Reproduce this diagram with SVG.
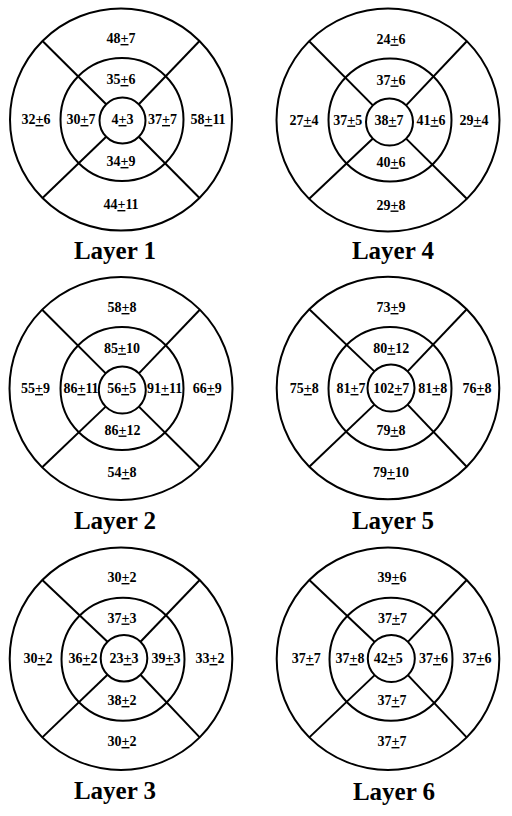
<svg xmlns="http://www.w3.org/2000/svg" width="512" height="816" viewBox="0 0 512 816">
<style>
circle{fill:none;stroke:#000;stroke-width:2}
line{stroke:#000;stroke-width:2}
.v{font-family:"Liberation Serif","Times New Roman",serif;font-weight:bold;font-size:14px;text-anchor:middle;fill:#000}
.t{font-family:"Liberation Serif","Times New Roman",serif;font-weight:bold;font-size:25px;text-anchor:middle;fill:#000}
.u{text-decoration:underline}
</style>
<rect width="512" height="816" fill="#fff"/>

<g id="layer1">
<circle cx="121" cy="119.5" r="111"/>
<circle cx="122" cy="119.5" r="61.5"/>
<circle cx="122.5" cy="120.5" r="23"/>
<g class="dividers">
<line x1="42.5" y1="41" x2="106.2" y2="104.2"/>
<line x1="199.5" y1="41" x2="138.8" y2="104.2"/>
<line x1="42.5" y1="198" x2="106.2" y2="136.8"/>
<line x1="199.5" y1="198" x2="138.8" y2="136.8"/>
</g>
<text class="v" x="121" y="43">48<tspan class="u">+</tspan>7</text>
<text class="v" x="121" y="84">35<tspan class="u">+</tspan>6</text>
<text class="v" x="36" y="124">32<tspan class="u">+</tspan>6</text>
<text class="v" x="81" y="124">30<tspan class="u">+</tspan>7</text>
<text class="v" x="122.5" y="124">4<tspan class="u">+</tspan>3</text>
<text class="v" x="162.5" y="124">37<tspan class="u">+</tspan>7</text>
<text class="v" x="208" y="124">58<tspan class="u">+</tspan>11</text>
<text class="v" x="121" y="166">34<tspan class="u">+</tspan>9</text>
<text class="v" x="121" y="209">44<tspan class="u">+</tspan>11</text>
<text class="t" x="115" y="259">Layer 1</text>
</g>

<g id="layer4">
<circle cx="388" cy="120" r="111.5"/>
<circle cx="390" cy="120" r="61.5"/>
<circle cx="389.5" cy="122" r="23.5"/>
<g class="dividers">
<line x1="309.2" y1="41.2" x2="372.9" y2="105.4"/>
<line x1="466.8" y1="41.2" x2="406.1" y2="105.4"/>
<line x1="309.2" y1="198.8" x2="372.9" y2="138.6"/>
<line x1="466.8" y1="198.8" x2="406.1" y2="138.6"/>
</g>
<text class="v" x="391" y="43.5">24<tspan class="u">+</tspan>6</text>
<text class="v" x="391" y="84.5">37<tspan class="u">+</tspan>6</text>
<text class="v" x="304" y="124.5">27<tspan class="u">+</tspan>4</text>
<text class="v" x="347.7" y="124.5">37<tspan class="u">+</tspan>5</text>
<text class="v" x="389" y="124.5">38<tspan class="u">+</tspan>7</text>
<text class="v" x="431" y="124.5">41<tspan class="u">+</tspan>6</text>
<text class="v" x="474" y="124.5">29<tspan class="u">+</tspan>4</text>
<text class="v" x="391" y="166.5">40<tspan class="u">+</tspan>6</text>
<text class="v" x="391" y="209.5">29<tspan class="u">+</tspan>8</text>
<text class="t" x="393" y="259">Layer 4</text>
</g>

<g id="layer2">
<circle cx="121" cy="388.5" r="111.5"/>
<circle cx="122" cy="388.5" r="61.5"/>
<circle cx="122.3" cy="390" r="23.5"/>
<g class="dividers">
<line x1="42.2" y1="309.7" x2="105.7" y2="373.4"/>
<line x1="199.8" y1="309.7" x2="138.9" y2="373.4"/>
<line x1="42.2" y1="467.3" x2="105.7" y2="406.6"/>
<line x1="199.8" y1="467.3" x2="138.9" y2="406.6"/>
</g>
<text class="v" x="122" y="312">58<tspan class="u">+</tspan>8</text>
<text class="v" x="122" y="352.5">85<tspan class="u">+</tspan>10</text>
<text class="v" x="35.5" y="393">55<tspan class="u">+</tspan>9</text>
<text class="v" x="81" y="393">86<tspan class="u">+</tspan>11</text>
<text class="v" x="121.7" y="393">56<tspan class="u">+</tspan>5</text>
<text class="v" x="164.7" y="393">91<tspan class="u">+</tspan>11</text>
<text class="v" x="207.3" y="393">66<tspan class="u">+</tspan>9</text>
<text class="v" x="122.5" y="434.5">86<tspan class="u">+</tspan>12</text>
<text class="v" x="122" y="477">54<tspan class="u">+</tspan>8</text>
<text class="t" x="115" y="528.5">Layer 2</text>
</g>

<g id="layer5">
<circle cx="388" cy="388" r="111.3"/>
<circle cx="390" cy="388.5" r="61.5"/>
<circle cx="391" cy="388" r="23.5"/>
<g class="dividers">
<line x1="309.3" y1="309.3" x2="374.4" y2="371.4"/>
<line x1="466.7" y1="309.3" x2="407.6" y2="371.4"/>
<line x1="309.3" y1="466.7" x2="374.4" y2="404.6"/>
<line x1="466.7" y1="466.7" x2="407.6" y2="404.6"/>
</g>
<text class="v" x="391" y="312">73<tspan class="u">+</tspan>9</text>
<text class="v" x="391.3" y="352.5">80<tspan class="u">+</tspan>12</text>
<text class="v" x="304.3" y="393">75<tspan class="u">+</tspan>8</text>
<text class="v" x="351" y="393">81<tspan class="u">+</tspan>7</text>
<text class="v" x="391.3" y="393">102<tspan class="u">+</tspan>7</text>
<text class="v" x="432.7" y="393">81<tspan class="u">+</tspan>8</text>
<text class="v" x="477" y="393">76<tspan class="u">+</tspan>8</text>
<text class="v" x="391" y="434.5">79<tspan class="u">+</tspan>8</text>
<text class="v" x="391" y="477">79<tspan class="u">+</tspan>10</text>
<text class="t" x="393" y="528.5">Layer 5</text>
</g>

<g id="layer3">
<circle cx="121" cy="658.7" r="111.3"/>
<circle cx="123" cy="659.3" r="61.5"/>
<circle cx="124" cy="658.3" r="23.3"/>
<g class="dividers">
<line x1="42.3" y1="580" x2="107.5" y2="641.8"/>
<line x1="199.7" y1="580" x2="140.5" y2="641.8"/>
<line x1="42.3" y1="737.4" x2="107.5" y2="674.8"/>
<line x1="199.7" y1="737.4" x2="140.5" y2="674.8"/>
</g>
<text class="v" x="122" y="582">30<tspan class="u">+</tspan>2</text>
<text class="v" x="122" y="622.5">37<tspan class="u">+</tspan>3</text>
<text class="v" x="38" y="663">30<tspan class="u">+</tspan>2</text>
<text class="v" x="83" y="663">36<tspan class="u">+</tspan>2</text>
<text class="v" x="124" y="663">23<tspan class="u">+</tspan>3</text>
<text class="v" x="166" y="663">39<tspan class="u">+</tspan>3</text>
<text class="v" x="210" y="663">33<tspan class="u">+</tspan>2</text>
<text class="v" x="122" y="705">38<tspan class="u">+</tspan>2</text>
<text class="v" x="122" y="746">30<tspan class="u">+</tspan>2</text>
<text class="t" x="115" y="799">Layer 3</text>
</g>

<g id="layer6">
<circle cx="388" cy="658.7" r="111.3"/>
<circle cx="391" cy="659.3" r="61.5"/>
<circle cx="391.3" cy="658.5" r="23.5"/>
<g class="dividers">
<line x1="309.3" y1="580" x2="374.7" y2="641.9"/>
<line x1="466.7" y1="580" x2="407.9" y2="641.9"/>
<line x1="309.3" y1="737.4" x2="374.7" y2="675.1"/>
<line x1="466.7" y1="737.4" x2="407.9" y2="675.1"/>
</g>
<text class="v" x="392" y="582">39<tspan class="u">+</tspan>6</text>
<text class="v" x="392.5" y="622.5">37<tspan class="u">+</tspan>7</text>
<text class="v" x="306.3" y="663">37<tspan class="u">+</tspan>7</text>
<text class="v" x="350" y="663">37<tspan class="u">+</tspan>8</text>
<text class="v" x="388.3" y="663">42<tspan class="u">+</tspan>5</text>
<text class="v" x="433.5" y="663">37<tspan class="u">+</tspan>6</text>
<text class="v" x="477" y="663">37<tspan class="u">+</tspan>6</text>
<text class="v" x="392" y="705">37<tspan class="u">+</tspan>7</text>
<text class="v" x="392" y="746">37<tspan class="u">+</tspan>7</text>
<text class="t" x="394" y="800">Layer 6</text>
</g>
</svg>
